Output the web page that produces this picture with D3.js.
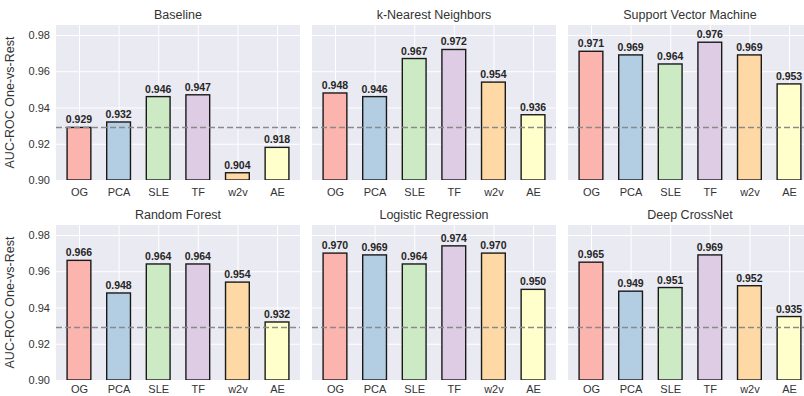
<!DOCTYPE html>
<html>
<head>
<meta charset="utf-8">
<script src="https://cdn.jsdelivr.net/npm/d3@7"></script>
<style>
  html, body { margin: 0; padding: 0; background: #ffffff; }
  svg { display: block; font-family: "Liberation Sans", Arial, sans-serif; }
</style>
</head>
<body>
<svg id="chart" width="804" height="396"></svg>
<script>
// Feature representations compared in every panel
const categories = ["OG", "PCA", "SLE", "TF", "w2v", "AE"];

// Panel titles (classifiers)
const models = ["Baseline", "k-Nearest Neighbors", "Support Vector Machine",
                "Random Forest", "Logistic Regression", "Deep CrossNet"];

// AUC-ROC (one-vs-rest) per classifier, in category order
const baselineScores = [0.929, 0.932, 0.946, 0.947, 0.904, 0.918];
const knnScores      = [0.948, 0.946, 0.967, 0.972, 0.954, 0.936];
const svmScores      = [0.971, 0.969, 0.964, 0.976, 0.969, 0.953];
const rfScores       = [0.966, 0.948, 0.964, 0.964, 0.954, 0.932];
const lrScores       = [0.970, 0.969, 0.964, 0.974, 0.970, 0.950];
const dcnScores      = [0.965, 0.949, 0.951, 0.969, 0.952, 0.935];

const yTicks = [0.90, 0.92, 0.94, 0.96, 0.98];
const yDomain = [0.90, 0.9855];

// Reference level: baseline score on the original features
const referenceLevel = baselineScores[0];

const palette = ["#fbb4ae", "#b3cde3", "#ccebc5", "#decbe4", "#fed9a6", "#ffffcc"];

const seriesByModel = [baselineScores, knnScores, svmScores, rfScores, lrScores, dcnScores];

const svg = d3.select("#chart");

// Layout of the 2 x 3 grid of panels
const panelW = 244, panelH = 155;
const colX = [56, 312, 568];
const rowY = [25, 225];
// Category labels sit a little closer on the lower row so they fit the page
const xLabelPad = [8, 5.5];

// Bar axis: width 0.6 per slot with 5% margins like a default bar plot
const n = categories.length;
const span = (n - 1) + 0.6;
const pad = span * 0.05;
const xLin = d3.scaleLinear().domain([-0.3 - pad, (n - 1) + 0.3 + pad]).range([0, panelW]);
const barW = xLin(0.6) - xLin(0);

const y = d3.scaleLinear().domain(yDomain).range([panelH, 0]);

const fmt = d3.format(".3f");

seriesByModel.forEach((values, i) => {
  const col = i % 3, row = Math.floor(i / 3);
  const g = svg.append("g").attr("transform", `translate(${colX[col]},${rowY[row]})`);

  // Clip so the bars stay inside their frame
  const clipId = "clip" + i;
  g.append("clipPath").attr("id", clipId)
    .append("rect").attr("width", panelW).attr("height", panelH);

  g.append("rect")
    .attr("width", panelW).attr("height", panelH)
    .attr("fill", "#eaeaf2");

  // Horizontal grid
  const yGrid = d3.axisLeft(y).tickValues(yTicks).tickSize(-panelW).tickFormat("");
  g.append("g").call(yGrid)
    .call(s => s.select(".domain").remove())
    .call(s => s.selectAll("line").attr("stroke", "#ffffff").attr("stroke-width", 1));

  // Vertical grid at each category
  const xGrid = d3.axisBottom(xLin).tickValues(d3.range(n)).tickSize(-panelH).tickFormat("");
  g.append("g").attr("transform", `translate(0,${panelH})`).call(xGrid)
    .call(s => s.select(".domain").remove())
    .call(s => s.selectAll("line").attr("stroke", "#ffffff").attr("stroke-width", 1));

  // Bars
  g.append("g").attr("clip-path", `url(#${clipId})`)
    .selectAll("rect.bar").data(values).join("rect")
    .attr("class", "bar")
    .attr("x", (d, j) => xLin(j) - barW / 2)
    .attr("width", barW)
    .attr("y", d => y(d))
    .attr("height", d => panelH - y(d))
    .attr("fill", (d, j) => palette[j])
    .attr("stroke", "#1a1a1a")
    .attr("stroke-width", 1.4);

  // Value labels
  g.selectAll("text.val").data(values).join("text")
    .attr("class", "val")
    .attr("x", (d, j) => xLin(j))
    .attr("y", d => y(d) - 4)
    .attr("text-anchor", "middle")
    .attr("font-size", "10.5px")
    .attr("font-weight", "bold")
    .attr("fill", "#262626")
    .text(d => fmt(d));

  // Dashed reference line
  g.append("line")
    .attr("x1", 0).attr("x2", panelW)
    .attr("y1", y(referenceLevel)).attr("y2", y(referenceLevel))
    .attr("stroke", "#8a8a8a")
    .attr("stroke-width", 1.6)
    .attr("stroke-dasharray", "6,3");

  // X tick labels
  const xAxis = d3.axisBottom(xLin).tickValues(d3.range(n))
    .tickFormat(j => categories[j]).tickSize(0).tickPadding(xLabelPad[row]);
  g.append("g").attr("transform", `translate(0,${panelH})`).call(xAxis)
    .call(s => s.select(".domain").remove())
    .call(s => s.selectAll("text")
      .attr("font-size", "11px")
      .attr("font-family", "'Liberation Sans', Arial, sans-serif")
      .attr("fill", "#333333"));

  // Y tick labels only on the first column (shared axis)
  if (col === 0) {
    const yAxis = d3.axisLeft(y).tickValues(yTicks).tickFormat(d3.format(".2f"))
      .tickSize(0).tickPadding(6);
    g.append("g").call(yAxis)
      .call(s => s.select(".domain").remove())
      .call(s => s.selectAll("text")
        .attr("font-size", "11px")
        .attr("font-family", "'Liberation Sans', Arial, sans-serif")
        .attr("fill", "#333333"));

    g.append("text")
      .attr("transform", `translate(${-42},${panelH / 2}) rotate(-90)`)
      .attr("text-anchor", "middle")
      .attr("font-size", "12.5px")
      .attr("fill", "#333333")
      .text("AUC-ROC One-vs-Rest");
  }

  // Panel title
  g.append("text")
    .attr("x", panelW / 2).attr("y", -6.5)
    .attr("text-anchor", "middle")
    .attr("font-size", "12.5px")
    .attr("fill", "#333333")
    .text(models[i]);
});
</script>
</body>
</html>
